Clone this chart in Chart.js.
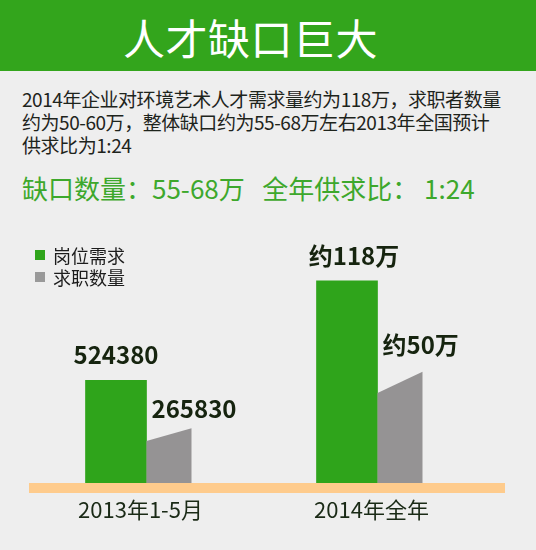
<!DOCTYPE html>
<html>
<head>
<meta charset="utf-8">
<script src="https://cdn.jsdelivr.net/npm/chart.js@4.4.1/dist/chart.umd.min.js"></script>
<style>
    body {
        margin: 0;
        width: 536px;
        height: 550px;
        background: #eeeeee;
        overflow: hidden;
        position: relative;
        font-family: "Noto Sans CJK SC", sans-serif;
    }
    .header {
        position: absolute;
        left: 0; top: 0;
        width: 536px; height: 71px;
        background: #33a51c;
    }
    .title {
        position: absolute;
        left: 123px; top: 16px;
        font-size: 42px;
        line-height: 42px;
        letter-spacing: 0.5px;
        color: #ffffff;
        white-space: nowrap;
    }
    .intro {
        position: absolute;
        left: 22px; top: 87px;
        font-size: 19px;
        line-height: 23px;
        letter-spacing: -0.45px;
        color: #1e241c;
        white-space: nowrap;
    }
    .gap {
        position: absolute;
        left: 22px; top: 173px;
        font-size: 26px;
        line-height: 30px;
        color: #3da82c;
        white-space: nowrap;
    }
    .legend {
        position: absolute;
        left: 35px; top: 244px;
        font-size: 18px;
        line-height: 22px;
        color: #1c1c1c;
        z-index: 2;
    }
    .legend div { display: flex; align-items: center; }
    .legend span.box { width: 10px; height: 10px; margin-right: 8px; display: inline-block; }
    #chart-wrap {
        position: absolute;
        left: 0; top: 230px;
        width: 536px; height: 320px;
    }
</style>
</head>
<body>
<div class="header"><div class="title">人才缺口巨大</div></div>
<div class="intro">
    2014年企业对环境艺术人才需求量约为118万，求职者数量<br>
    约为50-60万，整体缺口约为55-68万左右2013年全国预计<br>
    供求比为1:24
</div>
<div class="gap">缺口数量：55-68万&nbsp;&nbsp;&nbsp;全年供求比： 1:24</div>
<div class="legend" id="legend"></div>
<div id="chart-wrap"><canvas id="gap-chart"></canvas></div>

<script>
// chart data
const categories = ['2013年1-5月', '2014年全年'];
const seriesNames = ['岗位需求', '求职数量'];
// bar heights as drawn in the picture, in 万 (the picture is not to scale)
const demand = [60, 118];
const supplyRight = [32, 65];   // grey bar, right edge of slanted top
const supplyLeft = [24.5, 52.5]; // grey bar, left edge of slanted top
const demandLabels = ['524380', '约118万'];
const supplyLabels = ['265830', '约50万'];
const yMax = 136;

const GREEN = '#2fa41b';
const GREY = '#959394';

// html legend
const legend = document.getElementById('legend');
[GREEN, '#999999'].forEach((color, i) => {
    const row = document.createElement('div');
    row.innerHTML = `<span class="box" style="background:${color}"></span>${seriesNames[i]}`;
    legend.appendChild(row);
});

// draws the slanted grey bars, the baseline band and all the labels
const paintPlugin = {
    id: 'paint',
    afterDatasetsDraw(chart) {
        const ctx = chart.ctx;
        const area = chart.chartArea;
        const xScale = chart.scales.x;
        const yScale = chart.scales.y;
        const greenBars = chart.getDatasetMeta(0).data;
        const greyBars = chart.getDatasetMeta(1).data;

        ctx.save();

        ctx.fillStyle = GREY;
        greyBars.forEach((bar, i) => {
            const left = bar.x - bar.width / 2;
            const right = bar.x + bar.width / 2;
            ctx.beginPath();
            ctx.moveTo(left, bar.base);
            ctx.lineTo(left, yScale.getPixelForValue(supplyLeft[i]));
            ctx.lineTo(right, bar.y);
            ctx.lineTo(right, bar.base);
            ctx.closePath();
            ctx.fill();
        });

        // orange baseline
        ctx.fillStyle = '#fecb8c';
        ctx.fillRect(area.left - 2, area.bottom, area.right - area.left + 14, 10);

        // value labels
        ctx.font = 'bold 24px "Noto Sans CJK SC"';
        ctx.fillStyle = '#16240f';
        ctx.textBaseline = 'middle';
        ctx.textAlign = 'center';
        greenBars.forEach((bar, i) => {
            ctx.fillText(demandLabels[i], bar.x + (i ? 7 : 0), bar.y - 25);
        });
        const lift = [19, 27];
        ctx.textAlign = 'left';
        greyBars.forEach((bar, i) => {
            ctx.fillText(supplyLabels[i], bar.x - bar.width / 2 + 5, bar.y - lift[i]);
        });

        // category labels
        ctx.font = '22px "Noto Sans CJK SC"';
        ctx.fillStyle = '#1a2a16';
        ctx.textAlign = 'center';
        categories.forEach((name, i) => {
            ctx.fillText(name, xScale.getPixelForValue(i) - 6, area.bottom + 27);
        });

        ctx.restore();
    }
};

const ctx = document.getElementById('gap-chart').getContext('2d');
new Chart(ctx, {
    type: 'bar',
    data: {
        labels: categories,
        datasets: [{
            label: seriesNames[0],
            data: demand,
            backgroundColor: GREEN,
            barThickness: 61
        }, {
            label: seriesNames[1],
            data: supplyRight,
            backgroundColor: 'rgba(0,0,0,0)',
            barThickness: 45
        }]
    },
    options: {
        responsive: true,
        maintainAspectRatio: false,
        animation: false,
        layout: {
            padding: { left: 31, right: 43, top: 20, bottom: 67 }
        },
        plugins: {
            legend: { display: false },
            tooltip: { enabled: false }
        },
        scales: {
            x: { display: false },
            y: { display: false, min: 0, max: yMax }
        }
    },
    plugins: [paintPlugin]
});
</script>
</body>
</html>
